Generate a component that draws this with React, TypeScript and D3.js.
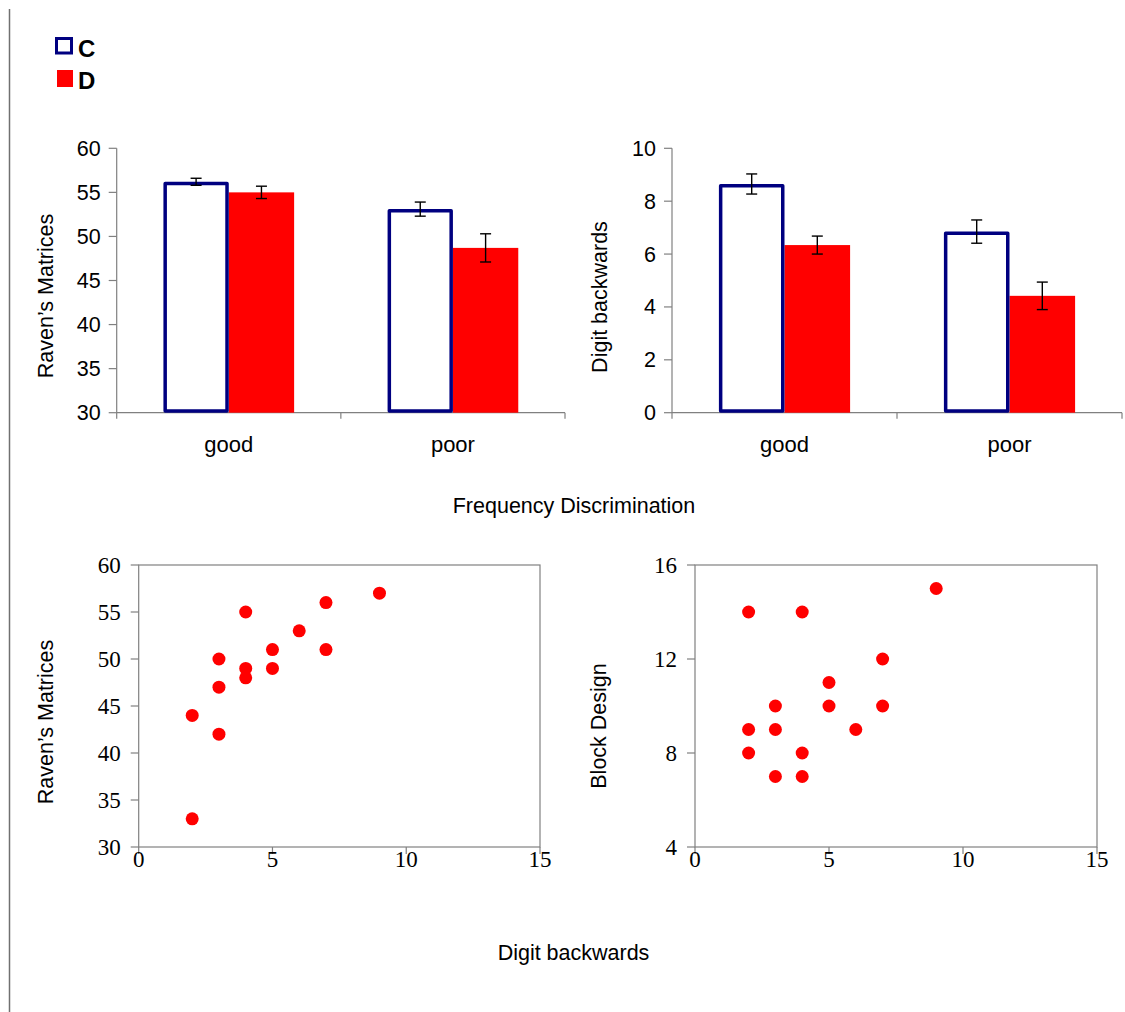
import React, { useEffect, useRef } from "react";
import * as d3 from "d3";

// bar charts: group means (+/- error) per frequency discrimination group
const categories = ["good", "poor"];
const groups = ["C", "D"];
const ravenC = [56.2, 53.1];
const ravenD = [55.0, 48.7];
const ravenErrC = [0.4, 0.8];
const ravenErrD = [0.7, 1.6];
const digitC = [8.65, 6.85];
const digitD = [6.34, 4.42];
const digitErrC = [0.38, 0.44];
const digitErrD = [0.34, 0.52];
const ravenTicks = [30, 35, 40, 45, 50, 55, 60];
const digitTicks = [0, 2, 4, 6, 8, 10];

// scatter plots
const scatterXTicks = [0, 5, 10, 15];
const digitBackA = [2, 2, 3, 3, 3, 4, 4, 4, 5, 5, 6, 7, 7, 9];
const ravenScores = [33, 44, 42, 47, 50, 48, 49, 55, 49, 51, 53, 51, 56, 57];
const digitBackB = [2, 2, 2, 3, 3, 3, 4, 4, 4, 5, 5, 6, 7, 7, 9];
const blockDesign = [14, 9, 8, 10, 9, 7, 14, 8, 7, 11, 10, 9, 12, 10, 15];
const blockTicks = [4, 8, 12, 16];

const SANS = "'Liberation Sans', Arial, sans-serif";
const SERIF = "'Liberation Serif', 'Times New Roman', serif";
const GREY = "#808080";
const NAVY = "#000080";
const RED = "#ff0000";
const LABEL = "21.5px";

function drawBars(svg, opts) {
  const { x0, x1, top, bottom, domain, ticks, cVals, dVals, cErr, dErr, title, titleX, titleY } = opts;
  const g = svg.append("g");
  const x = d3.scaleBand().domain(categories).range([x0, x1]).padding(0);
  const inner = d3.scaleBand().domain(groups).range([0, x.bandwidth()]).paddingInner(0).paddingOuter(0.715);
  const y = d3.scaleLinear().domain(domain).range([bottom, top]);

  // y axis
  g.append("line").attr("x1", x0).attr("x2", x0).attr("y1", top).attr("y2", bottom + 6)
    .attr("stroke", GREY).attr("stroke-width", 1.2);
  ticks.forEach(t => {
    g.append("line").attr("x1", x0 - 8).attr("x2", x0).attr("y1", y(t)).attr("y2", y(t))
      .attr("stroke", GREY).attr("stroke-width", 1.2);
    g.append("text").text(t).attr("x", x0 - 16).attr("y", y(t)).attr("dy", "0.35em")
      .attr("text-anchor", "end").style("font-family", SANS).style("font-size", LABEL).attr("fill", "#000");
  });

  // x axis
  g.append("line").attr("x1", x0).attr("x2", x1).attr("y1", bottom).attr("y2", bottom)
    .attr("stroke", GREY).attr("stroke-width", 1.2);
  categories.forEach((c, i) => {
    const bx = x(c) + x.bandwidth();
    g.append("line").attr("x1", bx).attr("x2", bx).attr("y1", bottom).attr("y2", bottom + 6)
      .attr("stroke", GREY).attr("stroke-width", 1.2);
    g.append("text").text(c).attr("x", x(c) + x.bandwidth() / 2).attr("y", bottom + 39)
      .attr("text-anchor", "middle").style("font-family", SANS).style("font-size", "22px");

    // D bar (filled)
    const dx = x(c) + inner("D");
    g.append("rect").attr("x", dx).attr("y", y(dVals[i])).attr("width", inner.bandwidth())
      .attr("height", bottom - y(dVals[i])).attr("fill", RED);
    // C bar (outlined)
    const cx = x(c) + inner("C");
    g.append("rect").attr("x", cx + 1.75).attr("y", y(cVals[i]) + 1.75).attr("width", inner.bandwidth() - 3.5)
      .attr("height", bottom - y(cVals[i]) - 3.5).attr("fill", "#fff")
      .attr("stroke", NAVY).attr("stroke-width", 3.5).attr("stroke-linejoin", "round");

    // error bars
    [[cx, cVals[i], cErr[i]], [dx, dVals[i], dErr[i]]].forEach(([bx0, v, e]) => {
      const mx = bx0 + inner.bandwidth() / 2;
      const eb = g.append("g").attr("stroke", "#000").attr("stroke-width", 1.4);
      eb.append("line").attr("x1", mx).attr("x2", mx).attr("y1", y(v + e)).attr("y2", y(v - e));
      eb.append("line").attr("x1", mx - 5.5).attr("x2", mx + 5.5).attr("y1", y(v + e)).attr("y2", y(v + e));
      eb.append("line").attr("x1", mx - 5.5).attr("x2", mx + 5.5).attr("y1", y(v - e)).attr("y2", y(v - e));
    });
  });

  g.append("text").text(title)
    .attr("transform", `translate(${titleX}, ${titleY}) rotate(-90)`)
    .attr("text-anchor", "middle").style("font-family", SANS).style("font-size", LABEL);
}

function drawScatter(svg, opts) {
  const { x0, x1, top, bottom, domain, yTicks, xs, ys, title, titleX, titleY } = opts;
  const g = svg.append("g");
  const x = d3.scaleLinear().domain([0, 15]).range([x0, x1]);
  const y = d3.scaleLinear().domain(domain).range([bottom, top]);

  g.append("rect").attr("x", x0).attr("y", top).attr("width", x1 - x0).attr("height", bottom - top)
    .attr("fill", "none").attr("stroke", GREY).attr("stroke-width", 1.2);
  yTicks.forEach(t => {
    g.append("line").attr("x1", x0 - 8).attr("x2", x0).attr("y1", y(t)).attr("y2", y(t))
      .attr("stroke", GREY).attr("stroke-width", 1.2);
    g.append("text").text(t).attr("x", x0 - 18).attr("y", y(t)).attr("dy", "0.35em")
      .attr("text-anchor", "end").style("font-family", SERIF).style("font-size", "23px");
  });
  scatterXTicks.forEach(t => {
    g.append("line").attr("x1", x(t)).attr("x2", x(t)).attr("y1", bottom).attr("y2", bottom + 7)
      .attr("stroke", GREY).attr("stroke-width", 1.2);
    g.append("text").text(t).attr("x", x(t)).attr("y", bottom + 20)
      .attr("text-anchor", "middle").style("font-family", SERIF).style("font-size", "23px");
  });

  g.selectAll("circle").data(xs).enter().append("circle")
    .attr("cx", (d) => x(d)).attr("cy", (d, i) => y(ys[i])).attr("r", 6.5).attr("fill", RED);

  g.append("text").text(title)
    .attr("transform", `translate(${titleX}, ${titleY}) rotate(-90)`)
    .attr("text-anchor", "middle").style("font-family", SANS).style("font-size", LABEL);
}

export default function App() {
  const ref = useRef(null);

  useEffect(() => {
    const svg = d3.select(ref.current);
    svg.selectAll("*").remove();

    svg.append("rect").attr("width", 1125).attr("height", 1012).attr("fill", "#fff");
    svg.append("line").attr("x1", 9.5).attr("x2", 9.5).attr("y1", 9).attr("y2", 1012)
      .attr("stroke", "#707070").attr("stroke-width", 1.5);

    // legend
    svg.append("rect").attr("x", 56.5).attr("y", 38.5).attr("width", 15).attr("height", 14.5)
      .attr("fill", "#fff").attr("stroke", NAVY).attr("stroke-width", 3);
    svg.append("rect").attr("x", 57).attr("y", 70).attr("width", 16).attr("height", 17).attr("fill", RED);
    svg.append("text").text("C").attr("x", 78).attr("y", 57)
      .style("font-family", SANS).style("font-size", "24px").style("font-weight", "bold");
    svg.append("text").text("D").attr("x", 78).attr("y", 89)
      .style("font-family", SANS).style("font-size", "24px").style("font-weight", "bold");

    drawBars(svg, {
      x0: 116.7, x1: 565, top: 148.3, bottom: 412.7, domain: [30, 60], ticks: ravenTicks,
      cVals: ravenC, dVals: ravenD, cErr: ravenErrC, dErr: ravenErrD,
      title: "Raven\u2019s Matrices", titleX: 53, titleY: 296,
    });
    drawBars(svg, {
      x0: 672, x1: 1122, top: 148.3, bottom: 412.7, domain: [0, 10], ticks: digitTicks,
      cVals: digitC, dVals: digitD, cErr: digitErrC, dErr: digitErrD,
      title: "Digit backwards", titleX: 607, titleY: 297,
    });

    svg.append("text").text("Frequency Discrimination").attr("x", 574).attr("y", 513)
      .attr("text-anchor", "middle").style("font-family", SANS).style("font-size", LABEL);

    drawScatter(svg, {
      x0: 138.7, x1: 540, top: 565, bottom: 847, domain: [30, 60], yTicks: ravenTicks,
      xs: digitBackA, ys: ravenScores, title: "Raven\u2019s Matrices", titleX: 53, titleY: 722,
    });
    drawScatter(svg, {
      x0: 695, x1: 1097, top: 565, bottom: 847, domain: [4, 16], yTicks: blockTicks,
      xs: digitBackB, ys: blockDesign, title: "Block Design", titleX: 606, titleY: 726,
    });

    svg.append("text").text("Digit backwards").attr("x", 573.5).attr("y", 960)
      .attr("text-anchor", "middle").style("font-family", SANS).style("font-size", LABEL);
  }, []);

  return (
    <svg ref={ref} width={1125} height={1012}
      style={{ position: "absolute", left: 0, top: 0, display: "block" }} />
  );
}
